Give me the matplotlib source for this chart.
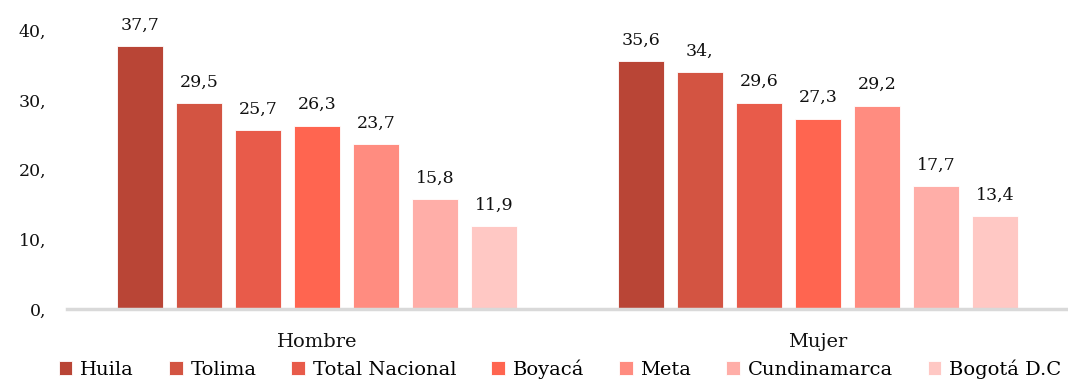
import numpy as np
import matplotlib.pyplot as plt

# Categories and series
groups = ['Hombre', 'Mujer']
departamentos = ['Huila', 'Tolima', 'Total Nacional', 'Boyacá', 'Meta', 'Cundinamarca', 'Bogotá D.C']
valores = {
    'Huila': [37.7, 35.6],
    'Tolima': [29.5, 34.0],
    'Total Nacional': [25.7, 29.6],
    'Boyacá': [26.3, 27.3],
    'Meta': [23.7, 29.2],
    'Cundinamarca': [15.8, 17.7],
    'Bogotá D.C': [11.9, 13.4],
}
colores = ['#B94536', '#D35442', '#E85B4A', '#FF6550', '#FF8C80', '#FFAEA8', '#FFC8C4']


def fmt(v):
    # one decimal with comma; whole numbers keep only the comma
    if float(v).is_integer():
        return f"{int(v)},"
    return f"{v:.1f}".replace('.', ',')


plt.rcParams['font.family'] = 'DejaVu Serif'

fig = plt.figure(figsize=(10.68, 3.82), dpi=100)
ax = fig.add_axes([67 / 1068, 0.1898, 1 - 67 / 1068, 0.8045])

x = np.arange(len(groups))
step = 0.118
width = 0.092
n = len(departamentos)

for i, (dep, col) in enumerate(zip(departamentos, colores)):
    pos = x + (i - (n - 1) / 2) * step
    bars = ax.bar(pos, valores[dep], width=width, color=col, label=dep,
                  edgecolor='white', linewidth=0.6)
    for b, v in zip(bars, valores[dep]):
        ax.annotate(fmt(v), (b.get_x() + b.get_width() / 2, b.get_height()),
                    xytext=(0, 9), textcoords='offset points',
                    ha='center', va='bottom', fontsize=12.5, color='#111111')

ax.set_xlim(-0.5, 1.5)
ax.set_ylim(0, 44)
ax.set_yticks([0, 10, 20, 30, 40])
ax.set_yticklabels([fmt(t) for t in [0, 10, 20, 30, 40]])
ax.set_xticks(x)
ax.set_xticklabels(groups)

for s in ['top', 'right', 'left']:
    ax.spines[s].set_visible(False)
ax.spines['bottom'].set_color('#D9D9D9')
ax.spines['bottom'].set_linewidth(2.5)
ax.tick_params(axis='y', length=0, pad=15, labelsize=12.5, labelcolor='#111111')
ax.tick_params(axis='x', length=0, pad=17, labelsize=14, labelcolor='#111111')

ax.legend(loc='center', bbox_to_anchor=(560 / 1068, 13 / 382), bbox_transform=fig.transFigure,
          ncol=7, frameon=False, fontsize=14, handlelength=0.7, handleheight=0.7,
          handletextpad=0.4, columnspacing=1.8)

fig.savefig('out.png', dpi=100)
